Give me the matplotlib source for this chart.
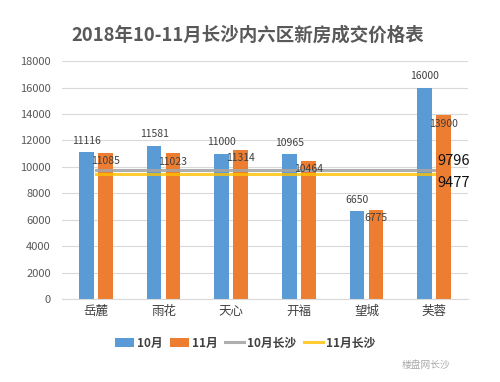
import matplotlib.pyplot as plt
import numpy as np

plt.rcParams['font.family'] = ['Noto Sans CJK SC', 'DejaVu Sans']

districts = ['岳麓', '雨花', '天心', '开福', '望城', '芙蓉']
oct_price = [11116, 11581, 11000, 10965, 6650, 16000]
nov_price = [11085, 11023, 11314, 10464, 6775, 13900]
oct_city = 9796
nov_city = 9477

fig = plt.figure(figsize=(5, 3.82), dpi=100)
ax = fig.add_axes([0.124, 0.217, 0.812, 0.623])

x = np.arange(len(districts))
w = 0.22
off = 0.14
b1 = ax.bar(x - off, oct_price, w, color='#5B9BD5', label='10月', zorder=2)
b2 = ax.bar(x + off, nov_price, w, color='#ED7D31', label='11月', zorder=2)

l1, = ax.plot(x, [oct_city] * len(x), color='#A5A5A5', lw=2.2, alpha=0.9,
              label='10月长沙', zorder=3)
l2, = ax.plot(x, [nov_city] * len(x), color='#FFC000', lw=2.2, alpha=0.8,
              label='11月长沙', zorder=3)

for xi, v in zip(x, oct_price):
    ax.text(xi - off, v + 500, str(v), ha='center', va='bottom',
            fontsize=7.5, color='#404040', zorder=4)
for xi, v in zip(x, nov_price):
    ax.text(xi + off, v - 250, str(v), ha='center', va='top',
            fontsize=7.5, color='#404040', zorder=4)

ax.text(x[-1] + 0.05, oct_city + 150, str(oct_city), ha='left', va='bottom',
        fontsize=10.5, color='#111111', zorder=4)
ax.text(x[-1] + 0.05, nov_city - 150, str(nov_city), ha='left', va='top',
        fontsize=10.5, color='#111111', zorder=4)

ax.set_xlim(-0.5, len(x) - 0.5)
ax.set_ylim(0, 18000)
ax.set_yticks(range(0, 18001, 2000))
ax.set_xticks(x)
ax.set_xticklabels(districts, fontsize=9, color='#404040')
ax.tick_params(axis='y', labelsize=8, colors='#595959', length=0, pad=8)
ax.tick_params(axis='x', length=0, pad=4)
ax.grid(axis='y', color='#D9D9D9', lw=0.8, zorder=0)
ax.set_axisbelow(True)
for s in ['top', 'right', 'left']:
    ax.spines[s].set_visible(False)
ax.spines['bottom'].set_color('#D9D9D9')

fig.text(0.496, 0.907, '2018年10-11月长沙内六区新房成交价格表', ha='center',
         va='center', fontsize=13.3, fontweight='bold', color='#595959')

fig.legend(handles=[b1, b2, l1, l2], loc='center', bbox_to_anchor=(0.49, 0.102),
           ncol=4, frameon=False, handlelength=1.6,
           handletextpad=0.3, columnspacing=0.6,
           prop={'weight': 'bold', 'size': 8.5})
for t in fig.legends[0].get_texts():
    t.set_color('#404040')

fig.text(0.9, 0.045, '楼盘网长沙', ha='right', va='center', fontsize=7,
         color='#AAAAAA')

fig.savefig('out.png', dpi=100)
